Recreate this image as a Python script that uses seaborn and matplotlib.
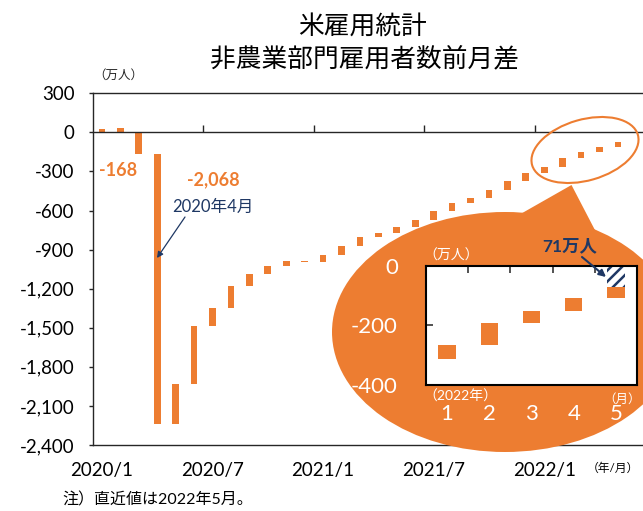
import matplotlib
matplotlib.use("Agg")
import matplotlib.pyplot as plt
from matplotlib.patches import Ellipse, Polygon
import numpy as np
import pandas as pd
import seaborn as sns

# 2020/1 ～ 2022/5 の非農業部門雇用者数 前月差（万人）
months = [f"{d.year}/{d.month}" for d in pd.date_range("2020-01-01", periods=29, freq="MS")]
changes = [26, 34, -168, -2068, 308, 445, 135, 168, 92, 63, 39, -11,
           57, 68, 71, 29, 48, 51, 69, 58, 39, 63, 67, 64,
           47, 73, 42, 42, 38]
start_idx = 2  # 2020/3 から累積（ウォーターフォール）
xtick_months = ["2020/1", "2020/7", "2021/1", "2021/7", "2022/1"]
inset_months = ["1", "2", "3", "4", "5"]

ORANGE = "#ED7D31"
NAVY = "#1F3864"
DARK = "#262626"

chg = np.array(changes)
idx = np.arange(len(chg))
level = np.cumsum(np.where(idx >= start_idx, chg, 0))
base = np.where(idx >= start_idx, level - chg, 0)
gap = level[-1]  # 2020/2 比の残り

sns.set_theme(style="white")
plt.rcParams["font.family"] = ["Lato", "Noto Sans CJK JP", "DejaVu Sans"]
plt.rcParams["hatch.linewidth"] = 1.8
plt.rcParams["hatch.color"] = NAVY

W, H = 643, 511
fig = plt.figure(figsize=(W / 100, H / 100), dpi=100)

# メインの軸
ax = fig.add_axes([92.7 / W, 1 - 445 / H, 1 - 92.7 / W, (445 - 93.3) / H], zorder=1)
df = pd.DataFrame({"month": months, "change": changes})
sns.barplot(data=df, x="month", y="change", order=months, color=ORANGE,
            saturation=1, width=0.36, errorbar=None, linewidth=0, ax=ax)
for patch, b in zip(ax.containers[0], base):
    patch.set_y(b)

ax.set_ylim(-2400, 300)
yt = np.arange(-2400, 301, 300)
ax.set_yticks(yt, [f"{v:,}" for v in yt])
ax.set_xlim(-0.5, -0.5 + (W - 92.7) / 18.43)
ax.set_xlabel("")
ax.set_ylabel("")
ax.spines["bottom"].set_position(("data", 0))
ax.spines["right"].set_visible(False)
for s in ["bottom", "top", "left"]:
    ax.spines[s].set_color(DARK)
    ax.spines[s].set_linewidth(1)
ax.set_xticks([5.5, 11.5, 17.5, 23.5])
ax.tick_params(axis="x", bottom=True, direction="in", length=5, width=1,
               color=DARK, labelbottom=False)
ax.tick_params(axis="y", left=True, direction="out", length=3, width=1,
               color=DARK, labelsize=13.5, labelcolor="black", pad=10)

sec = ax.secondary_xaxis("bottom")
sec.set_xticks([months.index(m) for m in xtick_months], xtick_months)
sec.tick_params(length=0, pad=12, labelsize=13.5, labelcolor="black")
sec.spines["bottom"].set_color(DARK)
sec.spines["bottom"].set_linewidth(1)

# 吹き出し（ピクセル座標のオーバーレイ）
ov = fig.add_axes([0, 0, 1, 1], zorder=2)
ov.set_xlim(0, W)
ov.set_ylim(H, 0)
ov.axis("off")
ov.add_patch(Ellipse((505, 332), 346, 240, facecolor=ORANGE, edgecolor="none"))
ov.add_patch(Polygon([(517, 216), (571.5, 185), (597, 234)], closed=True,
                     facecolor=ORANGE, edgecolor="none"))
ov.add_patch(Ellipse((585, 150), 110, 61, angle=-16, facecolor="none",
                     edgecolor=ORANGE, linewidth=1.5))

ov.text(93, 75, "（万人）", fontsize=9, color=DARK, ha="left", va="center")
ov.text(118, 170, "-168", fontsize=13, fontweight="bold", color=ORANGE,
        ha="center", va="center")
ov.text(213, 180, "-2,068", fontsize=13, fontweight="bold", color=ORANGE,
        ha="center", va="center")
ov.text(213, 207, "2020年4月", fontsize=12, color=NAVY, ha="center", va="center")
ov.annotate("", xy=(157, 258), xytext=(185, 217),
            arrowprops=dict(arrowstyle="-|>", color=NAVY, lw=0.9,
                            shrinkA=0, shrinkB=0, mutation_scale=9))
ov.text(570, 246, "71万人", fontsize=12.5, fontweight="bold", color=NAVY,
        ha="center", va="center")
ov.text(613, 468, "（年/月）", fontsize=8.5, color="black", ha="center", va="center")
ov.text(62, 500, "注）直近値は2022年5月。", fontsize=11.5, color="black",
        ha="left", va="center")
ov.text(423, 255, "（万人）", fontsize=10, color="white", ha="left", va="center")
ov.text(423, 396, "（2022年）", fontsize=10, color="white", ha="left", va="center")
ov.text(641, 399, "（月）", fontsize=9, color="white", ha="right", va="center")

# 拡大図
ax_in = fig.add_axes([425.7 / W, 1 - 385 / H, (637.3 - 425.7) / W, (385 - 265.7) / H],
                     zorder=3)
sns.barplot(x=inset_months, y=chg[-5:], order=inset_months, color=ORANGE,
            saturation=1, width=0.41, errorbar=None, linewidth=0, ax=ax_in)
for patch, b in zip(ax_in.containers[0], base[-5:]):
    patch.set_y(b)
sns.barplot(x=[inset_months[-1]], y=[gap], order=inset_months, color="white",
            saturation=1, width=0.41, errorbar=None, linewidth=0, ax=ax_in)
hp = ax_in.containers[1][0]
hp.set_hatch("///")
hp.set_edgecolor(NAVY)
hp.set_linewidth(0)

ax_in.set_ylim(-400, 0)
ax_in.set_yticks([-400, -200, 0], ["-400", "-200", "0"])
ax_in.set_xlim(-0.5, 4.5)
ax_in.set_xlabel("")
ax_in.set_ylabel("")
ax_in.set_facecolor("white")
for s in ax_in.spines.values():
    s.set_color("black")
    s.set_linewidth(1.5)
ax_in.set_xticks([0.5, 1.5, 2.5, 3.5], minor=True)
ax_in.tick_params(axis="x", which="minor", top=True, bottom=False,
                  direction="in", length=5, width=1.2, color="#333333")
ax_in.tick_params(axis="x", which="major", length=0, pad=14, labelsize=16,
                  labelcolor="white")
ax_in.tick_params(axis="y", left=True, direction="in", length=5, width=1.2,
                  color="#333333", labelsize=16, labelcolor="white", pad=20)

ov2 = fig.add_axes([0, 0, 1, 1], zorder=4)
ov2.set_xlim(0, W)
ov2.set_ylim(H, 0)
ov2.axis("off")
ov2.annotate("", xy=(606, 277), xytext=(582, 257),
             arrowprops=dict(arrowstyle="-|>", color=NAVY, lw=1.5,
                             shrinkA=0, shrinkB=0, mutation_scale=10))

# タイトル
fig.text(362 / W, 1 - 26 / H, "米雇用統計", fontsize=18.5, color="black",
         ha="center", va="center")
fig.text(364.5 / W, 1 - 59 / H, "非農業部門雇用者数前月差", fontsize=18.5,
         color="black", ha="center", va="center")

fig.savefig("out.png", dpi=100)
